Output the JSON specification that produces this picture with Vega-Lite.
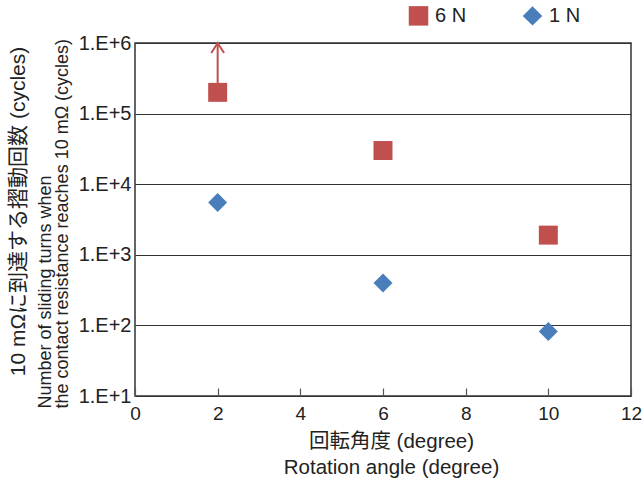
{
  "$schema": "https://vega.github.io/schema/vega-lite/v6.json",
  "width": 496,
  "height": 353,
  "autosize": {"type": "none"},
  "padding": {"left": 135, "top": 43, "right": 11, "bottom": 88},
  "config": {
    "font": "Liberation Sans, Noto Sans CJK JP, sans-serif",
    "view": {"stroke": "#333333", "strokeWidth": 1.5}
  },
  "datasets": {
    "points": [
      {"series": "6 N", "angle": 2, "cycles": 200000},
      {"series": "6 N", "angle": 6, "cycles": 30000},
      {"series": "6 N", "angle": 10, "cycles": 1900},
      {"series": "1 N", "angle": 2, "cycles": 5500},
      {"series": "1 N", "angle": 6, "cycles": 400},
      {"series": "1 N", "angle": 10, "cycles": 82}
    ],
    "arrow": [
      {"angle": 2, "from": 200000, "to": 1000000}
    ]
  },
  "resolve": {"axis": {"y": "independent"}},
  "layer": [
    {
      "data": {"name": "arrow"},
      "mark": {"type": "rule", "color": "#C0504D", "strokeWidth": 2},
      "encoding": {
        "x": {"field": "angle", "type": "quantitative", "scale": {"domain": [0, 12]}},
        "y": {
          "field": "from", "type": "quantitative",
          "scale": {"type": "log", "domain": [10, 1000000]},
          "axis": {
            "orient": "left", "title": "10 mΩに到達する摺動回数 (cycles)",
            "labels": false, "ticks": false, "domain": false, "grid": false,
            "titleFontSize": 21, "titleFontWeight": "normal", "titleColor": "#222222",
            "titleX": -117, "titleY": 168, "titleBaseline": "middle", "titleAngle": -90
          }
        },
        "y2": {"field": "to"}
      }
    },
    {
      "data": {"name": "arrow"},
      "mark": {"type": "point", "shape": "M-0.8,1.25L0,0L0.8,1.25", "filled": false, "size": 256, "color": "#C0504D", "strokeWidth": 2, "opacity": 1},
      "encoding": {
        "x": {"field": "angle", "type": "quantitative"},
        "y": {"field": "to", "type": "quantitative", "scale": {"type": "log", "domain": [10, 1000000]}, "axis": null}
      }
    },
    {
      "data": {"name": "points"},
      "mark": {"type": "point", "filled": true, "size": 360, "opacity": 1},
      "encoding": {
        "x": {
          "field": "angle", "type": "quantitative",
          "scale": {"domain": [0, 12]},
          "axis": {
            "values": [0, 2, 4, 6, 8, 10, 12], "grid": false, "labelFlush": false,
            "domain": false, "offset": -8, "tickSize": 8, "tickColor": "#555555", "tickWidth": 1.2,
            "zindex": 1,
            "labelFontSize": 19, "labelColor": "#222222", "labelPadding": 8,
            "title": ["回転角度 (degree)", "Rotation angle (degree)"],
            "titleFontSize": 20.5, "titleFontWeight": "normal", "titleColor": "#222222",
            "titleLineHeight": 26, "titlePadding": 8, "titleX": 256
          }
        },
        "y": {
          "field": "cycles", "type": "quantitative",
          "scale": {"type": "log", "domain": [10, 1000000]},
          "axis": {
            "orient": "left",
            "values": [10, 100, 1000, 10000, 100000, 1000000],
            "labelExpr": "'1.E+' + round(log(datum.value)/LN10)",
            "labelFlush": false,
            "grid": true, "gridColor": "#333333", "gridWidth": 1,
            "domain": false, "ticks": false,
            "labelFontSize": 20, "labelColor": "#222222", "labelPadding": 4,
            "title": ["Number of sliding turns when", "the contact resistance reaches 10 mΩ (cycles)"],
            "titleFontSize": 18, "titleFontWeight": "normal", "titleColor": "#222222",
            "titleLineHeight": 17, "titleX": -90, "titleY": 365, "titleAlign": "left",
            "titleBaseline": "middle", "titleAngle": -90
          }
        },
        "color": {
          "field": "series", "type": "nominal",
          "scale": {"domain": ["6 N", "1 N"], "range": ["#C0504D", "#4A7EBB"]},
          "legend": {
            "title": null, "orient": "none", "direction": "horizontal",
            "legendX": 273, "legendY": -38, "padding": 0,
            "symbolSize": 380, "symbolOpacity": 1,
            "labelFontSize": 20, "labelColor": "#222222", "labelOffset": 6,
            "columnPadding": 52
          }
        },
        "shape": {
          "field": "series", "type": "nominal",
          "scale": {"domain": ["6 N", "1 N"], "range": ["square", "diamond"]}
        }
      }
    }
  ]
}
